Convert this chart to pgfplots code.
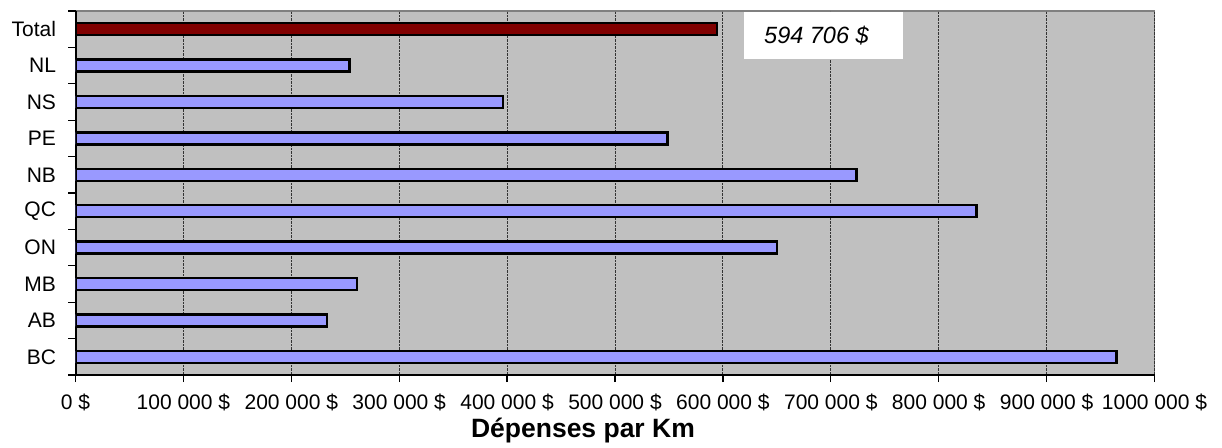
\documentclass[border=0pt]{standalone}
\usepackage{fontspec}
\setmainfont{Liberation Sans}
\usepackage{pgfplots}
\pgfplotsset{compat=1.18}
\definecolor{barblue}{HTML}{9999FF}
\definecolor{totalred}{HTML}{800000}
\definecolor{plotgray}{HTML}{C0C0C0}
\begin{document}
\begin{tikzpicture}[x=1pt,y=1pt]
\useasboundingbox (0,0) rectangle (1222,447);
\begin{axis}[
  at={(75.5pt,72pt)}, anchor=south west,
  scale only axis, width=1079pt, height=364pt,
  xbar, bar width=12pt, bar shift=0pt,
  xmin=0, xmax=1000000, ymin=-0.5, ymax=9.5,
  axis lines*=left,
  axis line style={black, line width=2pt},
  axis background/.style={fill=plotgray, draw=black!50, line width=1.3pt},
  xtick={0,100000,...,1000000},
  xticklabels={0~\$,100~000~\$,200~000~\$,300~000~\$,400~000~\$,500~000~\$,600~000~\$,700~000~\$,800~000~\$,900~000~\$,1000~000~\$},
  scaled x ticks=false,
  ytick={0,...,9},
  yticklabels={BC,AB,MB,ON,QC,NB,PE,NS,NL,Total},
  minor ytick={-0.5,0.5,...,9.5},
  tick align=outside,
  major tick length=7pt, minor tick length=7pt,
  ytick style={draw=none},
  minor y tick style={draw=black, line width=1.3pt},
  xtick style={draw=black, line width=1.3pt},
  xmajorgrids,
  major grid style={densely dotted, black!80, line width=0.9pt},
  tick label style={font=\fontsize{21}{25}\selectfont},
  xticklabel style={anchor=base, yshift=-27pt},
  yticklabel style={anchor=east, xshift=-9pt},
  xlabel={Dépenses par Km},
  xlabel style={font=\fontsize{26.5}{30}\selectfont\bfseries, at={(axis description cs:0.4703,0)}, anchor=base, yshift=-62pt},
]
\addplot[fill=barblue, draw=black, line width=2.5pt] coordinates {
  (965000,0) (233000,1) (261000,2) (650000,3) (835000,4)
  (724000,5) (548500,6) (396000,7) (254000,8)
};
\addplot[fill=totalred, draw=black, line width=2.5pt] coordinates {
  (594706,9)
};
\fill[white] (axis cs:619600,8.19) rectangle (axis cs:767000,9.47);
\node[anchor=base west, inner sep=0pt, font=\fontsize{23.5}{27}\selectfont\itshape]
  at (axis cs:638100,8.61) {594~706~\$};
\end{axis}
\end{tikzpicture}
\end{document}
